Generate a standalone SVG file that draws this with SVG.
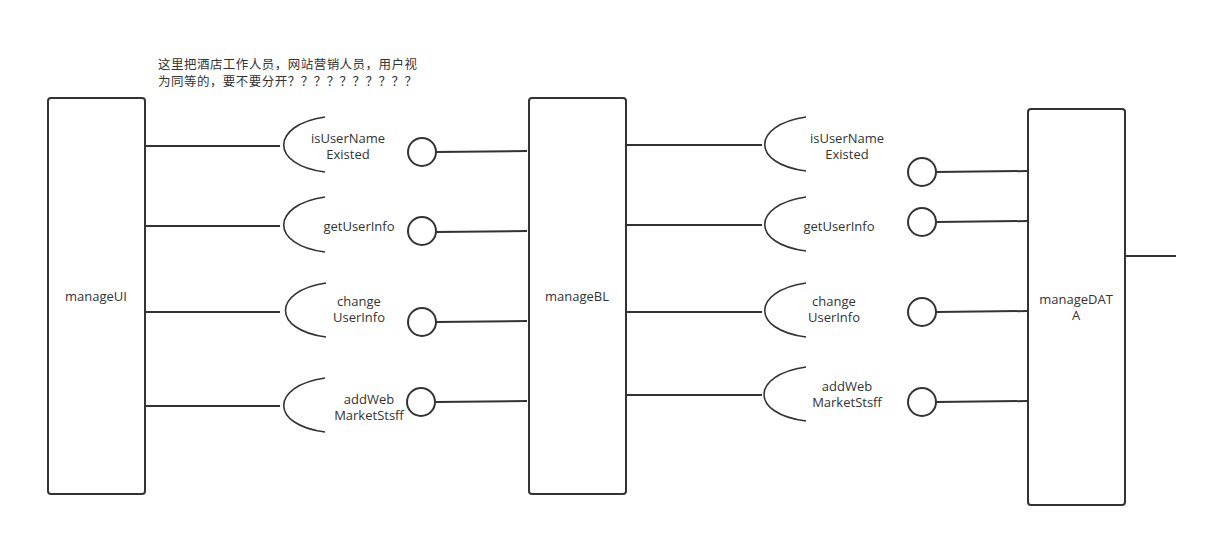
<svg xmlns="http://www.w3.org/2000/svg" width="1208" height="537" viewBox="0 0 1208 537">
<style>
.box{fill:#fff;stroke:#333;stroke-width:2}
.ln{fill:none;stroke:#333;stroke-width:2}
.arc{fill:none;stroke:#333;stroke-width:1.6}
.cir{fill:#fff;stroke:#333;stroke-width:2}
text{font-family:"Open Sans","Noto Sans CJK SC",sans-serif;font-size:13px;fill:#333;text-anchor:middle}
.note{font-family:"Noto Sans CJK SC",sans-serif;font-size:12.5px;text-anchor:start}
</style>
<rect width="1208" height="537" fill="#fff"/>
<g id="note"><text class="note" x="158" y="69" textLength="259">这里把酒店工作人员，网站营销人员，用户视</text><text class="note" x="158" y="86" textLength="259">为同等的，要不要分开？？？？？？？？？？</text></g>
<g id="connectors">
<path class="ln" d="M145 146H280M145 226H280M145 312H280M145 406H280"/>
<path class="ln" d="M436 152L527 151M436 232L527 231M436 322L527 321M436 402L527 401"/>
<path class="ln" d="M626 145H762M626 225H762M626 312H762M626 395H762"/>
<path class="ln" d="M936 172L1028 171M936 222L1028 221M936 312L1028 311M936 402L1028 401"/>
<path class="ln" d="M1125 256H1176"/>
</g>
<g id="manageUI"><rect class="box" x="48" y="98" width="97" height="396" rx="3"/><text x="96" y="301">manageUI</text></g>
<g id="manageBL"><rect class="box" x="529" y="98" width="97" height="396" rx="3"/><text x="577" y="301">manageBL</text></g>
<g id="manageDATA"><rect class="box" x="1028" y="109" width="97" height="396" rx="3"/><text x="1076" y="304">manageDAT</text><text x="1076" y="320">A</text></g>
<g id="req1L"><path class="arc" d="M325 117C270 125 270 165 325 172"/><text x="348" y="143">isUserName</text><text x="348" y="159">Existed</text></g>
<g id="req2L"><path class="arc" d="M325 197C270 205 270 245 325 252"/><text x="359" y="231">getUserInfo</text></g>
<g id="req3L"><path class="arc" d="M326 283C272 291 272 330 326 337"/><text x="359" y="306">change</text><text x="359" y="322">UserInfo</text></g>
<g id="req4L"><path class="arc" d="M325 378C270 386 270 425 325 432"/><text x="369" y="404">addWeb</text><text x="369" y="420">MarketStsff</text></g>
<g id="prov1L"><circle class="cir" cx="422" cy="152" r="14"/></g>
<g id="prov2L"><circle class="cir" cx="422" cy="231" r="14"/></g>
<g id="prov3L"><circle class="cir" cx="422" cy="322" r="14"/></g>
<g id="prov4L"><circle class="cir" cx="421" cy="402" r="14"/></g>
<g id="req1R"><path class="arc" d="M806 117C751 125 751 164 806 171"/><text x="847" y="143">isUserName</text><text x="847" y="159">Existed</text></g>
<g id="req2R"><path class="arc" d="M806 197C751 205 751 244 806 251"/><text x="839" y="231">getUserInfo</text></g>
<g id="req3R"><path class="arc" d="M806 283C751 291 751 330 806 337"/><text x="834" y="306">change</text><text x="834" y="322">UserInfo</text></g>
<g id="req4R"><path class="arc" d="M806 367C750 375 750 414 806 421"/><text x="847" y="391">addWeb</text><text x="847" y="407">MarketStsff</text></g>
<g id="prov1R"><circle class="cir" cx="922" cy="172" r="14"/></g>
<g id="prov2R"><circle class="cir" cx="922" cy="222" r="14"/></g>
<g id="prov3R"><circle class="cir" cx="922" cy="312" r="14"/></g>
<g id="prov4R"><circle class="cir" cx="922" cy="402" r="14"/></g>
</svg>
